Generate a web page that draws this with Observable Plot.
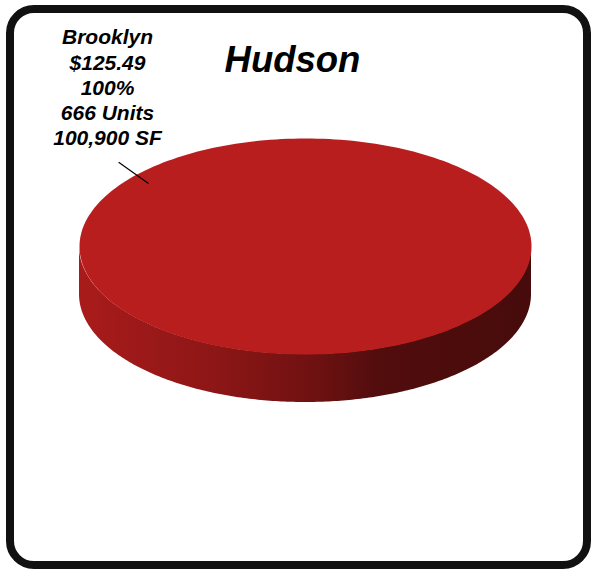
<!DOCTYPE html>
<html>
<head>
<meta charset="utf-8">
<script src="https://cdn.jsdelivr.net/npm/d3@7"></script>
<script src="https://cdn.jsdelivr.net/npm/@observablehq/plot@0.6"></script>
<style>
  html, body { margin: 0; padding: 0; background: #fff; }
  #chart { width: 592px; height: 569px; }
</style>
</head>
<body>
<div id="chart"></div>
<script>
// ---- data ----
const chartTitle = "Hudson";
const categories = ["Brooklyn"];
const prices = [125.49];
const shares = [100];
const units = [666];
const squareFeet = [100900];

// ---- layout ----
const W = 592, H = 569;
const geo = {cx: 305, cy: 246, rx: 226, ry: 108, depth: 48};
const font = "'Liberation Sans', Arial, Helvetica, sans-serif";

const rows = categories.map((c, i) => ({
  category: c, price: prices[i], share: shares[i], units: units[i], sf: squareFeet[i]
}));
const arcs = d3.pie().sort(null).value(d => d.share)(rows);

const ex = (a, r = 1) => geo.cx + geo.rx * r * Math.sin(a);
const ey = (a, r = 1) => geo.cy - geo.ry * r * Math.cos(a);
const rad = deg => deg * Math.PI / 180;

// top faces
const topPts = [];
arcs.forEach((arc, k) => {
  const n = 240;
  const full = arc.endAngle - arc.startAngle > 2 * Math.PI - 1e-6;
  if (!full) topPts.push({k, x: geo.cx, y: geo.cy});
  for (let i = 0; i <= n; i++) {
    const a = arc.startAngle + (arc.endAngle - arc.startAngle) * i / n;
    topPts.push({k, x: ex(a), y: ey(a)});
  }
});

// visible front side (angles between 90° and 270°)
const sidePts = [];
arcs.forEach((arc, k) => {
  const a0 = Math.max(arc.startAngle, Math.PI / 2);
  const a1 = Math.min(arc.endAngle, 3 * Math.PI / 2);
  if (a1 <= a0) return;
  const n = 240;
  for (let i = 0; i <= n; i++) {
    const a = a0 + (a1 - a0) * i / n;
    sidePts.push({k, x: ex(a), y: ey(a), yb: ey(a) + geo.depth});
  }
});

// data label + leader line
const fmt = d3.format(",");
const labels = rows.map(d => ({
  text: `${d.category}\n$${d.price.toFixed(2)}\n${d.share}%\n${d.units} Units\n${fmt(d.sf)} SF`,
  x: 107, y: 26
}));
const leaders = rows.map(() => ({
  x1: ex(rad(313.3), 1.136), y1: ey(rad(313.3), 1.136),
  x2: ex(rad(310), 0.907), y2: ey(rad(310), 0.907)
}));

const svg = Plot.plot({
  width: W, height: H,
  margin: 0,
  x: {domain: [0, W], range: [0, W], axis: null},
  y: {domain: [0, H], range: [0, H], axis: null},
  style: {background: "#fff", overflow: "visible"},
  marks: [
    Plot.area(sidePts, {x1: "x", y1: "y", y2: "yb", z: "k", fill: "url(#sideGrad)", stroke: "none"}),
    Plot.line(topPts, {x: "x", y: "y", z: "k", fill: "#b91e1e", stroke: "none", curve: "linear"}),
    Plot.link(leaders, {x1: "x1", y1: "y1", x2: "x2", y2: "y2", stroke: "#000", strokeWidth: 1.2}),
    Plot.text(labels, {x: "x", y: "y", text: "text", lineAnchor: "top", lineHeight: 1.2,
      fontSize: 21, fontWeight: "bold", fontStyle: "italic", fontFamily: font, fill: "#000"}),
    Plot.text([chartTitle], {x: () => 292, y: () => 46, text: d => d, lineAnchor: "top",
      fontSize: 36.5, fontWeight: "bold", fontStyle: "italic", fontFamily: font, fill: "#000"}),
    Plot.frame({stroke: "#111", strokeWidth: 8, rx: 24, ry: 24,
      insetLeft: 9.5, insetTop: 8.5, insetRight: 5.5, insetBottom: 4.5})
  ]
});

const ns = "http://www.w3.org/2000/svg";
const defs = document.createElementNS(ns, "defs");
const grad = document.createElementNS(ns, "linearGradient");
grad.setAttribute("id", "sideGrad");
grad.setAttribute("x1", "0"); grad.setAttribute("x2", "1");
grad.setAttribute("y1", "0"); grad.setAttribute("y2", "0");
[[0, "#a91b1b"], [0.3, "#8d1616"], [0.52, "#6f1111"], [0.66, "#520d0d"], [1, "#470b0b"]]
  .forEach(([o, c]) => {
    const s = document.createElementNS(ns, "stop");
    s.setAttribute("offset", o);
    s.setAttribute("stop-color", c);
    grad.appendChild(s);
  });
defs.appendChild(grad);
svg.insertBefore(defs, svg.firstChild);

document.getElementById("chart").appendChild(svg);
</script>
</body>
</html>
